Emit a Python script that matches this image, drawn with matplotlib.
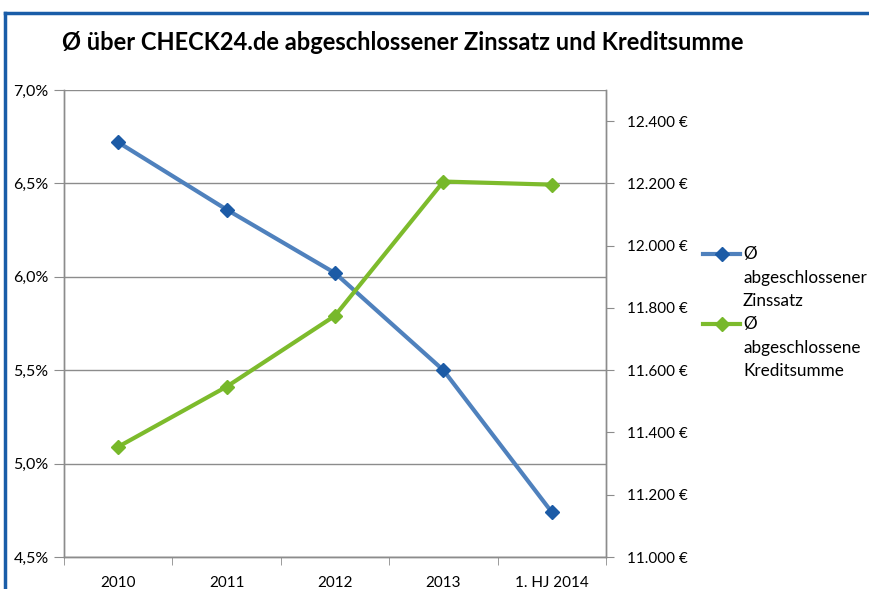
import matplotlib
matplotlib.use("Agg")
import matplotlib.pyplot as plt
from matplotlib.lines import Line2D
from matplotlib.ticker import FuncFormatter, MultipleLocator, FixedLocator

plt.rcParams['font.family'] = ['Lato', 'DejaVu Sans']

# data
categories = ["2010", "2011", "2012", "2013", "1. HJ 2014"]
zinssatz = [6.72, 6.36, 6.02, 5.50, 4.74]          # percent
kreditsumme = [11354, 11547, 11775, 12206, 12196]  # euro

title = "Ø über CHECK24.de abgeschlossener Zinssatz und Kreditsumme"
legend_labels = ["Ø\nabgeschlossener\nZinssatz", "Ø\nabgeschlossene\nKreditsumme"]

blue_line, blue_mark = "#4F81BD", "#1C5BA6"
green_line, green_mark = "#7DBB2C", "#77B82A"
grid_col = "#8C8C8C"

W, H = 869, 589
fig = plt.figure(figsize=(W / 100, H / 100), dpi=100)

def fx(px):
    return px / W

def fy(py):
    return 1 - py / H

ax = fig.add_axes([fx(64), fy(557), fx(606) - fx(64), fy(90) - fy(557)])
ax2 = ax.twinx()

x = list(range(len(categories)))
ax.plot(x, zinssatz, color=blue_line, lw=3, marker="D", ms=7.5,
        mfc=blue_mark, mec=blue_mark, zorder=3, solid_capstyle="round")
ax2.plot(x, kreditsumme, color=green_line, lw=3, marker="D", ms=7.5,
         mfc=green_mark, mec=green_mark, zorder=3, solid_capstyle="round")

# left axis
ax.set_xlim(-0.5, len(categories) - 0.5)
ax.set_ylim(4.5, 7.0)
ax.yaxis.set_major_locator(MultipleLocator(0.5))
ax.yaxis.set_major_formatter(FuncFormatter(lambda v, p: f"{v:.1f}%".replace(".", ",")))
ax.grid(axis="y", color=grid_col, lw=1)
ax.set_axisbelow(True)

# right axis
ax2.set_ylim(11000, 12500)
ax2.yaxis.set_major_locator(FixedLocator(range(11000, 12401, 200)))
ax2.yaxis.set_major_formatter(FuncFormatter(
    lambda v, p: f"{int(v):,}".replace(",", ".") + " €"))

# x axis: labels in the middle, tick marks at category boundaries
ax.set_xticks(x)
ax.set_xticklabels(categories)
ax.set_xticks([i - 0.5 for i in range(len(categories) + 1)], minor=True)
ax.tick_params(axis="x", which="major", length=0, pad=14, labelsize=11)
ax.tick_params(axis="x", which="minor", length=6, color=grid_col, direction="out")
ax.tick_params(axis="y", length=7, color=grid_col, labelsize=11.5, pad=4)
ax2.tick_params(axis="y", length=6, color=grid_col, labelsize=11, pad=9)

for a in (ax, ax2):
    for s in a.spines.values():
        s.set_color(grid_col)
        s.set_linewidth(1)
    a.spines["top"].set_visible(False)

# title
fig.text(fx(62), fy(42), title, fontsize=17, fontweight="bold",
         ha="left", va="center")

# legend, drawn by hand to keep the handle on the first text line
for i, (lab, lc, mc) in enumerate(zip(legend_labels, [blue_line, green_line],
                                      [blue_mark, green_mark])):
    y0 = 254 + i * 70
    fig.add_artist(Line2D([fx(703), fx(740)], [fy(y0), fy(y0)], color=lc, lw=3,
                          transform=fig.transFigure))
    fig.add_artist(Line2D([fx(721.5)], [fy(y0)], marker="D", ms=7.5, mfc=mc, mec=mc,
                          transform=fig.transFigure))
    fig.text(fx(743), fy(y0 - 8), lab, fontsize=12.3, ha="left", va="top",
             linespacing=1.58)

# frame around the chart (top and left edges visible)
border = "#1A5DA8"
fig.add_artist(Line2D([fx(5), 1], [fy(12.5), fy(12.5)], color=border, lw=2.5,
                      transform=fig.transFigure))
fig.add_artist(Line2D([fx(5), fx(5)], [fy(12.5), 0], color=border, lw=2.5,
                      transform=fig.transFigure))

fig.savefig("out.png", dpi=100)
